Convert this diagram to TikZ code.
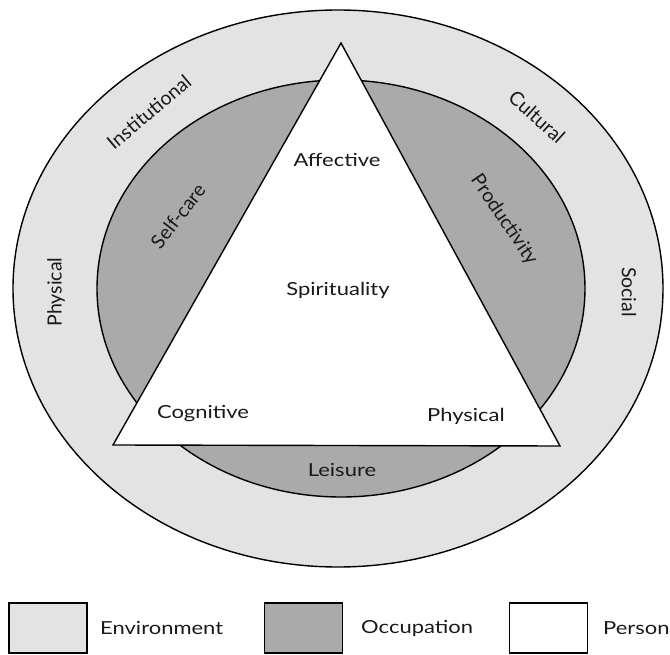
\documentclass[tikz,border=0pt]{standalone}
\usepackage{fontspec}
\setmainfont{Lato}
\definecolor{envgray}{RGB}{227,227,227}
\definecolor{occgray}{RGB}{170,170,170}
\begin{document}
\begin{tikzpicture}[x=1pt,y=-1pt,
  lbl/.style={font=\fontsize{18}{21}\selectfont, text=black!90, inner sep=0pt, xscale=1.22},
  rlbl/.style={font=\fontsize{19.5}{22}\selectfont, text=black!90, inner sep=0pt},
  ring/.style={draw=black, line width=1.4pt},
  keybox/.style={draw=black, line width=1.4pt, minimum width=78pt, minimum height=50pt, inner sep=0pt}]
\useasboundingbox (0,0) rectangle (670,655);
% environment
\path[ring, fill=envgray] (338,288.5) ellipse [x radius=325, y radius=278.5];
% occupation
\path[ring, fill=occgray] (341,288.5) ellipse [x radius=244, y radius=208.5];
% person
\coordinate (apex) at (341,43);
\coordinate (bl) at (113,445);
\coordinate (br) at (560,446);
\path[ring, fill=white, line join=miter] (apex) -- (bl) -- (br) -- cycle;
% person labels
\node[lbl] (aff) at (337,160) {Affective};
\node[lbl] (spi) at (338,290) {Spirituality};
\node[lbl] (cog) at (203,414) {Cognitive};
\node[lbl] (phy) at (466,416) {Physical};
% occupation labels
\node[rlbl, rotate=52] (self) at (178,216) {Self-care};
\node[rlbl, rotate=-56] (prod) at (504,220) {Productivity};
\node[lbl] (lei) at (342,470) {Leisure};
% environment labels
\node[rlbl, rotate=40] (inst) at (149,112) {Institutional};
\node[rlbl, rotate=-42] (cult) at (537,117) {Cultural};
\node[rlbl, rotate=90] (ephy) at (56,292) {Physical};
\node[rlbl, rotate=-90] (soc) at (629,292) {Social};
% legend
\node[keybox, fill=envgray] (kenv) at (48,628) {};
\node[lbl, anchor=west] (tenv) at (100,628) {Environment};
\node[keybox, fill=occgray] (kocc) at (303.5,628) {};
\node[lbl, anchor=west] (tocc) at (361,628) {Occupation};
\node[keybox, fill=white] (kper) at (548.5,628) {};
\node[lbl, anchor=west] (tper) at (603,628) {Person};
\end{tikzpicture}
\end{document}
